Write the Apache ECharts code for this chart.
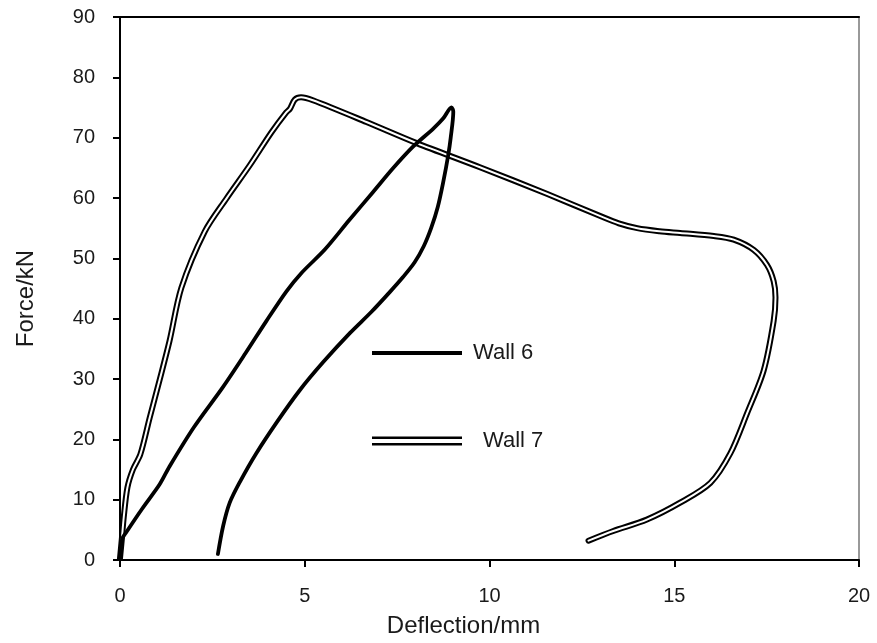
<!DOCTYPE html>
<html>
<head>
<meta charset="utf-8">
<script src="https://cdn.jsdelivr.net/npm/echarts@6/dist/echarts.min.js"></script>
<style>html,body{margin:0;padding:0;background:#fff;}#chart{width:877px;height:643px;}</style>
</head>
<body>
<div id="chart"></div>
<script>
// Tick values
var xTicks = [0, 5, 10, 15, 20];
var yTicks = [0, 10, 20, 30, 40, 50, 60, 70, 80, 90];

// Wall 6 (solid line)
var wall6Deflection = [0.00, 0.06, 0.17, 0.60, 1.07, 1.34, 2.00, 2.79, 3.40, 3.96, 4.50, 4.90, 5.55, 6.20, 6.85, 7.40, 7.93, 8.48, 8.75, 8.97, 9.02, 8.95, 8.88, 8.75, 8.60, 8.42, 8.22, 7.97, 7.66, 7.30, 6.80, 6.22, 5.50, 4.86, 4.25, 3.69, 3.25, 2.97, 2.79, 2.65];
var wall6Force      = [0.2,  3.5,  4.6,  8.5,  12.5, 15.5, 22.0, 28.7, 34.3, 39.6, 44.5, 47.5, 51.5, 56.3, 61.0, 65.0, 68.5, 71.5, 73.2, 75.0, 74.3, 70.0, 67.0, 62.7, 58.5, 55.0, 52.0, 49.3, 46.9, 44.4, 41.1, 37.6, 32.8, 28.1, 22.9, 17.7, 13.0, 9.5,  5.6,  1.0];

// Wall 7 (double line)
var wall7Deflection = [0.00, 0.05, 0.10, 0.20, 0.35, 0.55, 0.80, 1.07, 1.34, 1.66, 2.29, 2.88, 3.51, 4.10, 4.50, 4.60, 4.73, 4.90, 5.22, 6.67, 8.03, 9.74, 11.55, 13.00, 13.50, 14.00, 14.60, 15.16, 16.07, 16.61, 17.15, 17.51, 17.69, 17.74, 17.69, 17.42, 16.97, 16.52, 15.98, 15.16, 14.26, 13.35, 12.68];
var wall7Force      = [0.3,  3.5,  7.0,  12.0, 15.0, 17.5, 23.5, 29.8, 36.3, 45.1, 54.4, 59.9, 65.4, 70.9, 74.2, 74.8, 76.3, 76.7, 76.2, 72.6, 69.1, 65.1, 60.7,  57.0,  55.8,  55.0,  54.5,  54.2,  53.7,  53.1,  51.4,  48.9,  46.2,  43.5,  39.6,  31.4,  24.3,  17.7,  12.8,  9.5,   6.7,   4.8,   3.2];

function pairs(xs, ys) { return xs.map(function (x, i) { return [x, ys[i]]; }); }

var font = '"Liberation Sans", Arial, sans-serif';
var chart = echarts.init(document.getElementById('chart'));
chart.setOption({
  animation: false,
  backgroundColor: '#fff',
  grid: { left: 120, right: 18, top: 17, bottom: 79 },
  legend: [
    {
      data: ['Wall 6'], left: 372, top: 342, padding: 0,
      itemWidth: 90, itemHeight: 4, icon: 'rect',
      textStyle: { fontFamily: font, fontSize: 22, color: '#1a1a1a', lineHeight: 22, padding: [0, 0, 0, 6] }
    },
    {
      data: ['Wall 7'], left: 372, top: 430, padding: 0,
      itemWidth: 90, itemHeight: 9, icon: 'path://M0,0H90V2.6H0Z M0,6.4H90V9H0Z',
      textStyle: { fontFamily: font, fontSize: 22, color: '#1a1a1a', lineHeight: 22, padding: [0, 0, 0, 16] }
    }
  ],
  xAxis: [
    {
      type: 'value', min: xTicks[0], max: xTicks[xTicks.length - 1], interval: 5,
      name: 'Deflection/mm', nameLocation: 'middle', nameGap: 54,
      nameTextStyle: { fontFamily: font, fontSize: 24, color: '#1a1a1a', padding: [0, 52, 0, 0] },
      axisLine: { show: true, onZero: false, lineStyle: { color: '#000', width: 2 } },
      axisTick: { show: true, inside: false, length: 7, lineStyle: { color: '#000', width: 2 } },
      axisLabel: { fontFamily: font, fontSize: 20, color: '#1a1a1a', margin: 26 },
      splitLine: { show: false }
    },
    {
      type: 'value', position: 'top', min: xTicks[0], max: xTicks[xTicks.length - 1],
      axisLine: { show: true, onZero: false, lineStyle: { color: '#000', width: 2 } },
      axisTick: { show: false }, axisLabel: { show: false }, splitLine: { show: false }
    }
  ],
  yAxis: [
    {
      type: 'value', min: yTicks[0], max: yTicks[yTicks.length - 1], interval: 10,
      name: 'Force/kN', nameLocation: 'middle', nameGap: 82,
      nameTextStyle: { fontFamily: font, fontSize: 24, color: '#1a1a1a', padding: [0, 20, 0, 0] },
      axisLine: { show: true, onZero: false, lineStyle: { color: '#000', width: 2 } },
      axisTick: { show: true, inside: false, length: 7, lineStyle: { color: '#000', width: 2 } },
      axisLabel: { fontFamily: font, fontSize: 20, color: '#1a1a1a', margin: 25 },
      splitLine: { show: false }
    },
    {
      type: 'value', position: 'right', min: yTicks[0], max: yTicks[yTicks.length - 1],
      axisLine: { show: true, onZero: false, lineStyle: { color: '#777', width: 1.5 } },
      axisTick: { show: false }, axisLabel: { show: false }, splitLine: { show: false }
    }
  ],
  series: [
    {
      name: 'Wall 7', type: 'line', xAxisIndex: 0, yAxisIndex: 0,
      data: pairs(wall7Deflection, wall7Force), showSymbol: false, symbol: 'none', smooth: 0.3,
      color: '#000',
      lineStyle: { color: '#000', width: 6, cap: 'round', join: 'round' }, z: 2
    },
    {
      name: 'Wall 7 inner', type: 'line', xAxisIndex: 0, yAxisIndex: 0,
      data: pairs(wall7Deflection, wall7Force), showSymbol: false, symbol: 'none', smooth: 0.3,
      lineStyle: { color: '#fff', width: 2, cap: 'round', join: 'round' }, z: 3, silent: true
    },
    {
      name: 'Wall 6', type: 'line', xAxisIndex: 0, yAxisIndex: 0,
      data: pairs(wall6Deflection, wall6Force), showSymbol: false, symbol: 'none', smooth: 0.3,
      color: '#000',
      lineStyle: { color: '#000', width: 3.8, cap: 'round', join: 'round' }, z: 4
    }
  ]
});
</script>
</body>
</html>
